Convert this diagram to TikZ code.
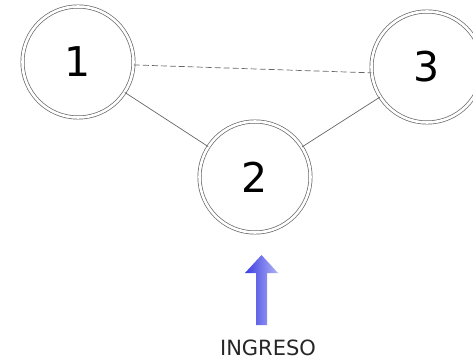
\documentclass[tikz,border=0pt]{standalone}
\usepackage{fontspec}
\setmainfont{DejaVu Sans}
\begin{document}
\begin{tikzpicture}[x=1pt,y=-1pt,
  station/.style={circle, draw=black!60, line width=0.7pt, double=white, double distance=2.6pt,
    minimum size=111pt, inner sep=0pt, font=\fontsize{41}{41}\selectfont},
  link/.style={draw=black!60, line width=0.7pt}]
\useasboundingbox (0,0) rectangle (473,363);
\begin{scope}
\clip (0,0) rectangle (473,363);
\node[station] (n1) at (78,62) {1};
\node[station] (n2) at (255,177) {2};
\node[station] (n3) at (427,67) {3};
\draw[link, dash pattern=on 6pt off 3pt] (n1.-3) -- (n3.186);
\draw[link] (n1) -- (n2);
\draw[link] (n2) -- (n3);
\end{scope}
\shade[left color={rgb,255:red,60;green,60;blue,225}, right color={rgb,255:red,175;green,180;blue,245}]
  (256,325) -- (256,273) -- (245,273) -- (261.5,255) -- (278,273) -- (267,273) -- (267,325) -- cycle;
\node[font=\fontsize{21}{21}\selectfont, text=black!85] (lbl) at (268,348) {INGRESO};
\end{tikzpicture}
\end{document}
